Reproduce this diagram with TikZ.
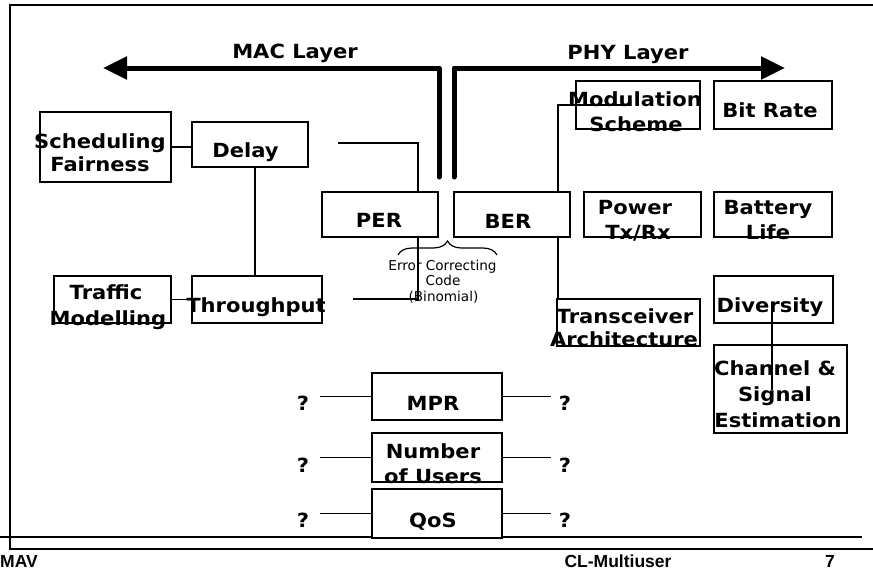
\documentclass[tikz,border=0pt]{standalone}
\usepackage{fontspec}
\setmainfont{DejaVu Sans}[FakeStretch=1.08]
\newfontfamily\ecfont{DejaVu Sans}
\newfontfamily\footfont{Liberation Sans}
\usetikzlibrary{arrows.meta,decorations.pathreplacing}
\begin{document}
\begin{tikzpicture}[x=1pt,y=-1pt,
  box/.style={draw=black,line width=1.3pt,fill=white,inner sep=0pt,outer sep=0pt},
  openbox/.style={draw=black,line width=1.3pt,inner sep=0pt,outer sep=0pt},
  conn/.style={draw=black,line width=1.3pt},
  thickarrow/.style={draw=black,line width=5pt,line cap=round,line join=round,
    -{Triangle[length=24pt,width=22pt]}},
  lab/.style={font=\bfseries\fontsize{19.5}{25}\selectfont,inner sep=0pt,anchor=base},
  ec/.style={font=\ecfont\fontsize{13.6}{15.5}\selectfont,inner sep=0pt,anchor=base},
  foot/.style={font=\footfont\bfseries\fontsize{17.5}{20}\selectfont,inner sep=0pt,anchor=base}]
\useasboundingbox (0,0) rectangle (873,576);

% frame and footer rule
\draw[line width=1.3pt] (873,5) -- (10,5) -- (10,549) -- (873,549);
\draw[line width=1.5pt] (0,537) -- (862,537);

% thick layer arrows
\coordinate (macbot) at (439,177);
\coordinate (mactop) at (439,68);
\coordinate (mactip) at (103,68);
\coordinate (phybot) at (454,177);
\coordinate (phytop) at (454,68);
\coordinate (phytip) at (785,68);
\draw[thickarrow] (macbot) -- (mactop) -- (mactip);
\draw[thickarrow] (phybot) -- (phytop) -- (phytip);

% bend coordinates
\coordinate (c1) at (255,0);
\coordinate (d1) at (338,143);
\coordinate (d2) at (418,143);
\coordinate (d3) at (418,299);
\coordinate (d4) at (353,299);
\coordinate (m1) at (630,105);
\coordinate (m2) at (558,105);
\coordinate (v1) at (772,312);
\coordinate (v2) at (772,390);
\coordinate (lend) at (320,0);
\coordinate (rend) at (551,0);

% boxes
\node[box,minimum width=131pt,minimum height=70pt] (sched) at (105.5,147) {};
\node[box,minimum width=116pt,minimum height=45pt] (delay) at (250,144.5) {};
\node[box,minimum width=116pt,minimum height=45pt] (per) at (380,214.5) {};
\node[box,minimum width=116pt,minimum height=45pt] (ber) at (512,214.5) {};
\node[box,minimum width=130pt,minimum height=47pt] (thru) at (257,299.5) {};
\node[box,minimum width=117pt,minimum height=47pt] (traffic) at (112.5,299.5) {};
\node[openbox,minimum width=124pt,minimum height=48pt] (modul) at (638,105) {};
\node[box,minimum width=118pt,minimum height=48pt] (bitrate) at (773,105) {};
\node[box,minimum width=117pt,minimum height=45pt] (power) at (642.5,214.5) {};
\node[box,minimum width=118pt,minimum height=45pt] (battery) at (773,214.5) {};
\node[openbox,minimum width=119pt,minimum height=47pt] (diversity) at (773.5,299.5) {};
\node[box,minimum width=143pt,minimum height=47pt] (trans) at (628.5,322.5) {};
\node[openbox,minimum width=133pt,minimum height=88pt] (channel) at (780.5,389) {};
\node[box,minimum width=130pt,minimum height=47pt] (mpr) at (437,396.5) {};
\node[box,minimum width=130pt,minimum height=49pt] (nusers) at (437,457.5) {};
\node[box,minimum width=130pt,minimum height=49pt] (qos) at (437,513.5) {};

% connectors
\draw[conn] (sched.east |- 0,147) -- (delay.west |- 0,147);
\draw[conn] (delay.south -| c1) -- (thru.north -| c1);
\draw[conn] (d1) -- (d2) -- (d2 |- per.north);
\draw[conn] (d2 |- per.south) -- (d3) -- (d4);
\draw[conn] (traffic.east) -- (thru.west);
\draw[conn] (m1) -- (m2) -- (m2 |- ber.north);
\draw[conn] (m2 |- ber.south) -- (m2 |- trans.north);
\draw[conn] (v1) -- (v2);
\foreach \b in {mpr,nusers,qos}{
  \draw[conn] (\b.west) -- (\b.west -| lend);
  \draw[conn] (\b.east) -- (\b.east -| rend);
}

% brace
\coordinate (br1) at (398,255);
\coordinate (br2) at (497,255);
\draw[line width=1.2pt,decorate,decoration={brace,amplitude=14pt}] (br1) -- (br2);

% labels
\node[lab] (tmac) at (295,58.5) {MAC Layer};
\node[lab] (tphy) at (628,59) {PHY Layer};
\node[lab] (tsched1) at (100,148) {Scheduling};
\node[lab] (tsched2) at (100,171) {Fairness};
\node[lab] (tdelay) at (245.5,157) {Delay};
\node[lab] (tper) at (379,227) {PER};
\node[lab] (tber) at (508,228) {BER};
\node[lab] (tthru) at (256,312) {Throughput};
\node[lab] (ttraf1) at (106,299) {Traffic};
\node[lab] (ttraf2) at (108,325) {Modelling};
\node[lab] (tmod1) at (635,106) {Modulation};
\node[lab] (tmod2) at (636,131) {Scheme};
\node[lab] (tbit) at (770,117) {Bit Rate};
\node[lab] (tpow1) at (635,214) {Power};
\node[lab] (tpow2) at (638,239) {Tx/Rx};
\node[lab] (tbat1) at (768,214) {Battery};
\node[lab] (tbat2) at (768,239) {Life};
\node[lab] (tdiv) at (770,312) {Diversity};
\node[lab] (ttr1) at (625,323) {Transceiver};
\node[lab] (ttr2) at (624,346) {Architecture};
\node[lab] (tch1) at (775,375) {Channel \&};
\node[lab] (tch2) at (775,401) {Signal};
\node[lab] (tch3) at (778,427) {Estimation};
\node[lab] (tmpr) at (433,410) {MPR};
\node[lab] (tnu1) at (433,458) {Number};
\node[lab] (tnu2) at (433,483) {of Users};
\node[lab] (tqos) at (433,527) {QoS};
\node[lab] (ql1) at (303,410) {?};
\node[lab] (ql2) at (303,472) {?};
\node[lab] (ql3) at (303,527) {?};
\node[lab] (qr1) at (565,410) {?};
\node[lab] (qr2) at (565,472) {?};
\node[lab] (qr3) at (565,527) {?};
\node[ec] (tec1) at (442.5,270) {Error Correcting};
\node[ec] (tec2) at (443,285.5) {Code};
\node[ec] (tec3) at (443.5,301) {(Binomial)};

% footer
\node[foot,anchor=base west] (fmav) at (0,567) {MAV};
\node[foot] (fcl) at (618,567) {CL-Multiuser};
\node[foot] (fnum) at (830,567) {7};
\end{tikzpicture}
\end{document}
